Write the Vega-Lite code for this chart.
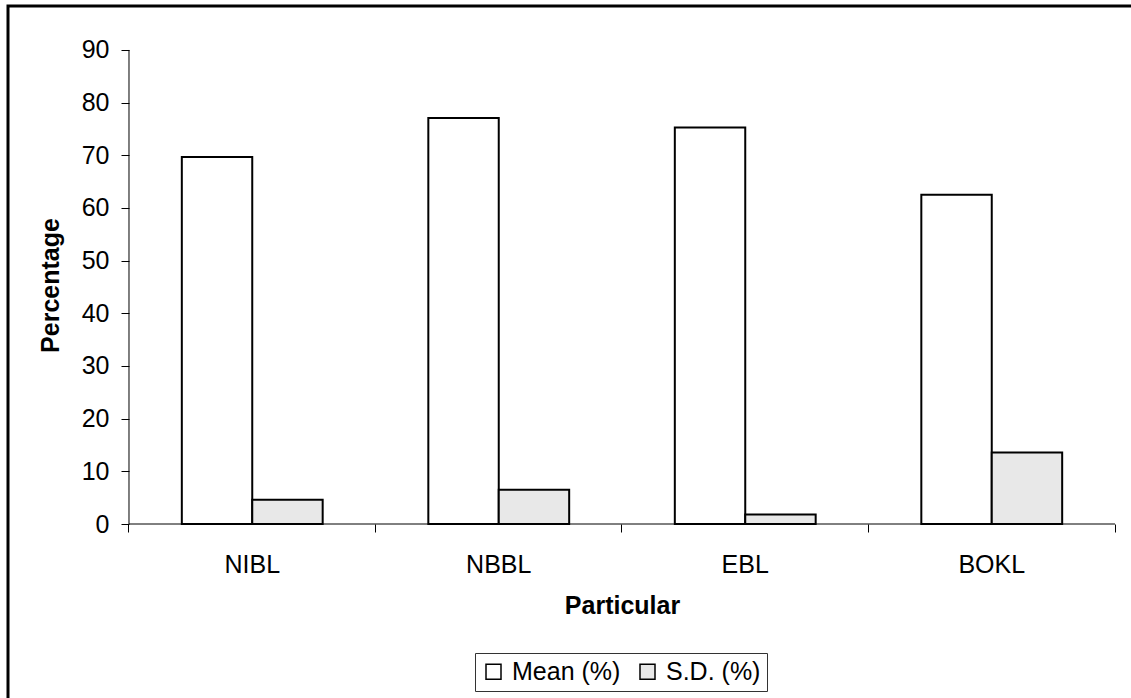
{
  "$schema": "https://vega.github.io/schema/vega-lite/v6.json",
  "width": 1153,
  "height": 722,
  "autosize": {"type": "none"},
  "padding": {"left": 8, "top": 6, "right": -30, "bottom": -30},
  "background": "white",
  "config": {
    "view": {"stroke": "black", "strokeWidth": 3},
    "font": "Liberation Sans"
  },
  "data": {
    "values": [
      {"Particular": "NIBL", "Measure": "Mean (%)", "Value": 69.7},
      {"Particular": "NIBL", "Measure": "S.D. (%)", "Value": 4.6},
      {"Particular": "NBBL", "Measure": "Mean (%)", "Value": 77.1},
      {"Particular": "NBBL", "Measure": "S.D. (%)", "Value": 6.5},
      {"Particular": "EBL", "Measure": "Mean (%)", "Value": 75.3},
      {"Particular": "EBL", "Measure": "S.D. (%)", "Value": 1.8},
      {"Particular": "BOKL", "Measure": "Mean (%)", "Value": 62.5},
      {"Particular": "BOKL", "Measure": "S.D. (%)", "Value": 13.6}
    ]
  },
  "layer": [
    {
      "mark": {"type": "bar", "stroke": "black", "strokeWidth": 2},
      "encoding": {
        "x": {
          "field": "Particular",
          "type": "nominal",
          "sort": ["NIBL", "NBBL", "EBL", "BOKL"],
          "scale": {"paddingInner": 0, "paddingOuter": 0.33874, "align": 0.72455},
          "axis": {
            "title": "Particular",
            "orient": "bottom",
            "offset": -204,
            "domain": false,
            "grid": false,
            "bandPosition": 1,
            "tickExtra": true,
            "tickSize": 8,
            "tickColor": "black",
            "labelAngle": 0,
            "labelFont": "Liberation Sans",
            "labelFontSize": 25,
            "labelColor": "black",
            "labelBaseline": "alphabetic",
            "labelPadding": 40,
            "titleFont": "Liberation Sans",
            "titleFontSize": 25,
            "titleFontWeight": "bold",
            "titleColor": "black",
            "titleX": 614,
            "titleY": 89,
            "titleBaseline": "alphabetic"
          }
        },
        "xOffset": {
          "field": "Measure",
          "type": "nominal",
          "sort": ["Mean (%)", "S.D. (%)"],
          "scale": {"paddingInner": 0, "paddingOuter": 0.75}
        },
        "y": {
          "field": "Value",
          "type": "quantitative",
          "scale": {"domain": [-38.73, 98.35], "nice": false, "zero": false},
          "axis": {
            "title": "Percentage",
            "offset": -121,
            "values": [0, 10, 20, 30, 40, 50, 60, 70, 80, 90],
            "domain": false,
            "grid": false,
            "tickSize": 8,
            "tickColor": "black",
            "labelFont": "Liberation Sans",
            "labelFontSize": 25,
            "labelColor": "black",
            "labelPadding": 12,
            "titleFont": "Liberation Sans",
            "titleFontSize": 25,
            "titleFontWeight": "bold",
            "titleColor": "black",
            "titleX": -71,
            "titleY": 279,
            "titleBaseline": "alphabetic"
          }
        },
        "y2": {"datum": 0},
        "fill": {
          "field": "Measure",
          "type": "nominal",
          "scale": {"domain": ["Mean (%)", "S.D. (%)"], "range": ["white", "#e8e8e8"]},
          "legend": {
            "orient": "none",
            "legendX": 467,
            "legendY": 647,
            "direction": "horizontal",
            "title": null,
            "strokeColor": "#333",
            "fillColor": "white",
            "padding": 6,
            "symbolType": "square",
            "symbolSize": 225,
            "symbolStrokeColor": "black",
            "symbolStrokeWidth": 1.5,
            "labelFont": "Liberation Sans",
            "labelFontSize": 25,
            "labelColor": "black",
            "labelOffset": 6,
            "columnPadding": 14
          }
        }
      }
    },
    {
      "data": {"values": [{}]},
      "mark": {"type": "rule", "color": "black", "strokeWidth": 1},
      "encoding": {
        "x": {"datum": "NIBL", "bandPosition": 0},
        "x2": {"datum": "BOKL", "bandPosition": 1},
        "y": {"datum": 0}
      }
    },
    {
      "data": {"values": [{}]},
      "mark": {"type": "rule", "color": "black", "strokeWidth": 1},
      "encoding": {
        "x": {"datum": "NIBL", "bandPosition": 0},
        "y": {"datum": 0},
        "y2": {"datum": 90}
      }
    }
  ]
}
